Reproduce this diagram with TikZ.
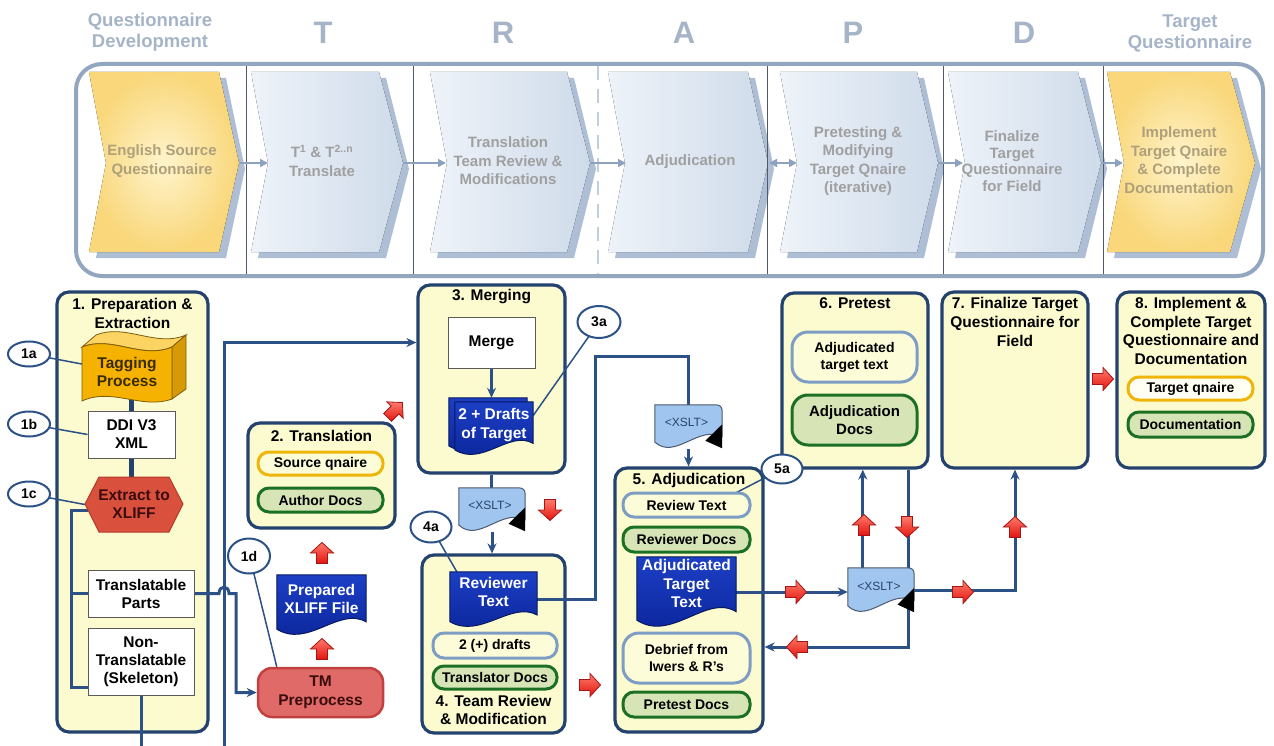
\documentclass[tikz,border=0pt]{standalone}
\usepackage{fontspec}
\setmainfont{Liberation Sans}
\usetikzlibrary{arrows.meta,calc,shapes.geometric}

\definecolor{navy}{HTML}{23426E}
\definecolor{connc}{HTML}{2C5187}
\definecolor{boxfill}{HTML}{FBFBCF}
\definecolor{hdrc}{HTML}{A6B4C8}
\definecolor{bandc}{HTML}{93A6C0}
\definecolor{sepc}{HTML}{4E5A68}
\definecolor{dashc}{HTML}{C3CEDB}
\definecolor{shadc}{HTML}{AEBFD5}
\definecolor{chBl}{HTML}{EEF3F9}
\definecolor{chBr}{HTML}{CFDBEA}
\definecolor{chYi}{HTML}{FFF4CC}
\definecolor{chYo}{HTML}{F9D77A}
\definecolor{chtextB}{HTML}{A0A0A0}
\definecolor{chtextY}{HTML}{AFA07C}
\definecolor{garr}{HTML}{8DA2BE}
\definecolor{golden}{HTML}{EFB509}
\definecolor{pillblue}{HTML}{7E9DC4}
\definecolor{pillgreen}{HTML}{1C7023}
\definecolor{greenfill}{HTML}{D6E4B6}
\definecolor{pillfill}{HTML}{FCFCD9}
\definecolor{whitefill}{HTML}{FFFFF4}
\definecolor{docTop}{HTML}{1C3FC4}
\definecolor{docBot}{HTML}{0A2397}
\definecolor{docedge}{HTML}{08195E}
\definecolor{xslfill}{HTML}{A0C6EF}
\definecolor{xsledge}{HTML}{4B5A6E}
\definecolor{xsltext}{HTML}{27446C}
\definecolor{wedge}{HTML}{5A5A5A}
\definecolor{hexred}{HTML}{D9503D}
\definecolor{hexedge}{HTML}{B23C2C}
\definecolor{tmred}{HTML}{DF6A68}
\definecolor{tmedge}{HTML}{C0413F}
\definecolor{darktext}{HTML}{3A0C0C}
\definecolor{tagfront}{HTML}{F5B200}
\definecolor{tagtopc}{HTML}{FCD463}
\definecolor{tagsidec}{HTML}{D69A05}
\definecolor{tagedge}{HTML}{7D5C0E}
\definecolor{tagtext}{HTML}{3A2A00}
\definecolor{arrlight}{HTML}{FF7B6B}
\definecolor{arrdark}{HTML}{E2140F}
\definecolor{arredge}{HTML}{A31616}

\pgfdeclarelayer{bg}
\pgfdeclarelayer{lines}
\pgfsetlayers{bg,lines,main}

% document outline with a wavy lower edge, fitted to a frame node
\newcommand\docshape[2]{%
  \path[#2] let \p1=(#1.north west), \p2=(#1.south east),
    \n1={\x2-\x1}, \n2={\y1-\y2} in
    (\x1,\y1) -- (\x2,\y1) -- (\x2,{\y2+0.22*\n2})
    .. controls ({\x2-0.3*\n1},{\y2+0.48*\n2}) and ({\x1+0.35*\n1},{\y2-0.22*\n2}) ..
    (\x1,{\y2+0.1*\n2}) -- cycle;}

% transformation sheet: rounded top corner, wavy bottom, black corner mark
\newcommand\xsltshape[1]{%
  \path[xsl] let \p1=(#1.north west), \p2=(#1.south east),
    \n1={\x2-\x1}, \n2={\y1-\y2} in
    (\x1,\y1) -- ({\x2-7},\y1) .. controls ({\x2-2},\y1) and (\x2,{\y1-2}) .. (\x2,{\y1-7})
    -- (\x2,{\y2+0.28*\n2})
    .. controls ({\x2-0.35*\n1},{\y2+0.55*\n2}) and ({\x1+0.3*\n1},{\y2-0.25*\n2}) ..
    (\x1,{\y2+0.16*\n2}) -- cycle;
  \fill[black] let \p1=(#1.north west), \p2=(#1.south east),
    \n1={\x2-\x1}, \n2={\y1-\y2} in
    (\x2,{\y2+0.56*\n2}) -- (\x2,{\y2+0.02*\n2}) -- ({\x2-0.25*\n1},{\y2+0.19*\n2}) -- cycle;}

\tikzset{
  redarrow/.pic={\path[top color=arrlight,bottom color=arrdark,draw=arredge,line width=0.8pt]
    (-10.5,-5.5) -- (0,-5.5) -- (0,-11.5) -- (10.5,0) -- (0,11.5) -- (0,5.5) -- (-10.5,5.5) -- cycle;}
}

\begin{document}
\begin{tikzpicture}[x=1pt,y=-1pt,
  hdr/.style={font=\bfseries\fontsize{18.5}{21}\selectfont, text=hdrc, align=center, inner sep=0pt},
  bigl/.style={font=\bfseries\fontsize{31}{31}\selectfont, text=hdrc, inner sep=0pt},
  chB/.style={left color=chBl, right color=chBr},
  chY/.style={inner color=chYi, outer color=chYo},
  chtxt/.style={font=\bfseries\fontsize{15}{18.5}\selectfont, align=center, text=chtextB, inner sep=0pt},
  garrow/.style={draw=garr, line width=1.6pt, -{Triangle[length=8pt,width=8pt]}},
  stage/.style={draw=navy, line width=3.2pt, fill=boxfill, rounded corners=12pt, inner sep=0pt},
  ttl/.style={font=\bfseries\fontsize{15.5}{18.7}\selectfont, align=center, inner sep=0pt},
  wbox/.style={draw=wedge, line width=1pt, fill=white, align=center, inner sep=0pt, font=\bfseries\fontsize{15.5}{18}\selectfont},
  pill/.style={line width=3pt, fill=pillfill, rounded corners=11pt, inner sep=0pt, align=center, font=\bfseries\fontsize{14}{17}\selectfont},
  pillG/.style={pill, draw=pillgreen, fill=greenfill},
  pillY/.style={pill, draw=golden},
  pillB/.style={pill, draw=pillblue},
  docframe/.style={inner sep=0pt, draw=none},
  docfill/.style={top color=docTop, bottom color=docBot, draw=docedge, line width=1pt},
  doctxt/.style={text=white, font=\bfseries\fontsize{15.5}{18.5}\selectfont, align=center, inner sep=0pt},
  xsl/.style={fill=xslfill, draw=xsledge, line width=1pt},
  xsltxt/.style={text=xsltext, font=\fontsize{12}{14}\selectfont, inner sep=0pt},
  conn/.style={draw=connc, line width=3pt},
  arr/.style={conn, -{Stealth[length=10pt,width=9pt]}},
  lead/.style={draw=connc, line width=1.5pt},
  thk/.style={draw=navy, line width=5pt},
  callout/.style={ellipse, draw=connc, line width=2pt, fill=white, inner sep=0pt, font=\bfseries\fontsize{14}{16}\selectfont},
]
\useasboundingbox (0,0) rectangle (1274,746);
\begin{pgfonlayer}{bg}
\fill[white] (0,0) rectangle (1274,746);
\end{pgfonlayer}

% ---------- phase header ----------
\node[hdr] (hq) at (150,32) {Questionnaire\\Development};
\node[bigl] (hT) at (323,33) {T};
\node[bigl] (hR) at (503,33) {R};
\node[bigl] (hA) at (684,33) {A};
\node[bigl] (hP) at (853,33) {P};
\node[bigl] (hD) at (1024,33) {D};
\node[hdr] (htq) at (1190,33) {Target\\Questionnaire};

% chevrons with their drop shadows
\foreach \xa/\xb/\xp/\st in {89/219/239/chY, 251/379/403/chB, 430/567/590/chB, 608/748/768/chB,
                             780/917/938/chB, 948/1078/1101/chB, 1107/1230/1255/chY}{
  \fill[shadc] ({\xa+7},78) -- ({\xb+7},78) -- ({\xp+6},169) -- ({\xb+7},258) -- ({\xa+7},258) -- ({\xa+24},169) -- cycle;
  \fill[\st] (\xa,72) -- (\xb,72) -- (\xp,163) -- (\xb,252) -- (\xa,252) -- ({\xa+17},163) -- cycle;
}
\foreach \xs in {246,413,767,943,1103}
  \draw[sepc, line width=1pt] (\xs,64) -- (\xs,276);
\draw[dashc, line width=2.5pt, dash pattern=on 14pt off 9pt] (598,66) -- (598,276);
\draw[bandc, line width=4pt, rounded corners=26pt] (76,64) rectangle (1263,276);

\node[chtxt, text=chtextY] (c1) at (162,161) {English Source\\Questionnaire};
\node[chtxt] (c2) at (322,161) {T\textsuperscript{1} \& T\textsuperscript{2..n}\\Translate};
\node[chtxt] (c3) at (508,161) {Translation\\Team Review \&\\Modifications};
\node[chtxt] (c4) at (690,162) {Adjudication};
\node[chtxt] (c5) at (858,161) {Pretesting \&\\Modifying\\Target Qnaire\\(iterative)};
\node[chtxt, font=\bfseries\fontsize{15}{16.5}\selectfont] (c6) at (1012,161) {Finalize\\Target\\Questionnaire\\for Field};
\node[chtxt, text=chtextY] (c7) at (1179,160) {Implement\\Target Qnaire\\\& Complete\\Documentation};

\draw[garrow] (239,163) -- (268,163);
\draw[garrow] (403,163) -- (446,163);
\draw[garrow] (590,163) -- (626,163);
\draw[draw=garr, line width=1.6pt, {Triangle[length=8pt,width=8pt]}-{Triangle[length=8pt,width=8pt]}] (769,163) -- (797,163);
\draw[garrow] (938,163) -- (963,163);
\draw[garrow] (1101,163) -- (1123,163);

% ---------- workflow stages ----------
\begin{pgfonlayer}{bg}
\node[stage, minimum width=151pt, minimum height=440pt] (s1) at (132.5,512) {};
\node[stage, minimum width=147pt, minimum height=105pt] (s2) at (321.5,475.5) {};
\node[stage, minimum width=147pt, minimum height=188pt] (s3) at (491.5,379) {};
\node[stage, minimum width=143pt, minimum height=178pt] (s4) at (493.5,644) {};
\node[stage, minimum width=148pt, minimum height=264pt] (s5) at (689,600) {};
\node[stage, minimum width=146pt, minimum height=175pt] (s6) at (855,380.5) {};
\node[stage, minimum width=146pt, minimum height=176pt] (s7) at (1015,380) {};
\node[stage, minimum width=148pt, minimum height=176pt] (s8) at (1191,380) {};
\end{pgfonlayer}

\node[ttl] (t1) at (132.5,313.5) {1. Preparation \&\\Extraction};
\node[ttl] (t2) at (321.5,436) {2. Translation};
\node[ttl] (t3) at (491.5,297) {3. Merging};
\node[ttl] (t4) at (493.5,710) {4. Team Review\\\& Modification};
\node[ttl] (t5) at (689,480) {5. Adjudication};
\node[ttl] (t6) at (855,303) {6. Pretest};
\node[ttl] (t7) at (1015,322) {7. Finalize Target\\Questionnaire for\\Field};
\node[ttl] (t8) at (1191,331) {8. Implement \&\\Complete Target\\Questionnaire and\\Documentation};

% stage 1: tagging banner (front, top and side faces)
\fill[tagtopc, draw=tagedge, line width=0.8pt] (82,347) -- (96,335) .. controls (126,323) and (156,348) .. (186,335)
  -- (172,347) .. controls (142,360) and (112,335) .. (82,347) -- cycle;
\fill[tagsidec, draw=tagedge, line width=0.8pt] (172,347) -- (186,335) -- (186,389) -- (172,399) -- cycle;
\fill[tagfront, draw=tagedge, line width=0.8pt] (82,347) .. controls (112,335) and (142,360) .. (172,347)
  -- (172,399) .. controls (142,410) and (112,387) .. (82,401) -- cycle;
\node[docframe, minimum width=90pt, minimum height=52pt, align=center, text=tagtext,
      font=\bfseries\fontsize{15.5}{18}\selectfont] (tag) at (127,372) {Tagging\\Process};

\node[wbox, minimum width=87pt, minimum height=47pt] (ddi) at (131.5,434.5) {DDI V3\\XML};
\fill[hexred, draw=hexedge, line width=1pt] (85,504) -- (99,477) -- (169,477) -- (183,504) -- (169,532) -- (99,532) -- cycle;
\node[docframe, minimum width=98pt, minimum height=55pt, align=center, text=darktext,
      font=\bfseries\fontsize{15.5}{18}\selectfont] (ext) at (134,504.5) {Extract to\\XLIFF};
\node[wbox, minimum width=106pt, minimum height=47pt] (tr) at (141,593.5) {Translatable\\Parts};
\node[wbox, minimum width=106pt, minimum height=67pt] (nontr) at (141,661.5) {Non-\\Translatable\\(Skeleton)};

% stage 2 and its inputs
\node[pillY, minimum width=125pt, minimum height=23pt] (p2a) at (320.5,463.5) {Source qnaire};
\node[pillG, minimum width=125pt, minimum height=24pt] (p2b) at (320.5,500) {Author Docs};

\node[docframe, minimum width=89pt, minimum height=60pt] (prep) at (321.5,605) {};
\docshape{prep}{docfill}
\node[doctxt] (prept) at (321.5,599) {Prepared\\XLIFF File};

\node[draw=tmedge, line width=2.5pt, fill=tmred, rounded corners=14pt, minimum width=125pt, minimum height=49pt,
      inner sep=0pt, align=center, text=darktext, font=\bfseries\fontsize{15.5}{18.5}\selectfont] (tm) at (320.5,692.5) {TM\\Preprocess};

% stage 3
\node[wbox, minimum width=87pt, minimum height=51pt] (merge) at (491.5,342.5) {Merge};
\node[docframe, minimum width=78pt, minimum height=53pt] (drfb) at (488,424.5) {};
\node[docframe, minimum width=78pt, minimum height=53pt] (drf) at (494,428.5) {};
\docshape{drfb}{docfill}
\docshape{drf}{docfill}
\node[doctxt] (drft) at (494,425) {2 + Drafts\\of Target};

\node[docframe, minimum width=66pt, minimum height=44pt] (xs1) at (492,510) {};
\xsltshape{xs1}
\node[xsltxt] (xs1t) at (490,505) {<XSLT>};

% stage 4
\node[docframe, minimum width=87pt, minimum height=55pt] (rev) at (493.5,599.5) {};
\docshape{rev}{docfill}
\node[doctxt] (revt) at (493.5,592) {Reviewer\\Text};
\node[pillB, minimum width=124pt, minimum height=25pt] (p4a) at (495,645.5) {2 (+) drafts};
\node[pillG, minimum width=124pt, minimum height=23pt] (p4b) at (495,677.5) {Translator Docs};

\node[docframe, minimum width=67pt, minimum height=44pt] (xs2) at (688.5,427) {};
\xsltshape{xs2}
\node[xsltxt] (xs2t) at (686.5,422) {<XSLT>};

% stage 5
\node[pillB, minimum width=127pt, minimum height=24pt] (p5a) at (686.5,505) {Review Text};
\node[pillG, minimum width=127pt, minimum height=25pt] (p5b) at (686.5,539.5) {Reviewer Docs};
\node[docframe, minimum width=99pt, minimum height=70pt] (adj) at (686.5,592) {};
\docshape{adj}{docfill}
\node[doctxt] (adjt) at (686.5,583.5) {Adjudicated\\Target\\Text};
\node[pillB, rounded corners=16pt, minimum width=127pt, minimum height=50pt] (p5c) at (686.5,658) {Debrief from\\Iwers \& R's};
\node[pillG, minimum width=127pt, minimum height=25pt] (p5d) at (686.5,704.5) {Pretest Docs};

\node[docframe, minimum width=66pt, minimum height=45pt] (xs3) at (881,590.5) {};
\xsltshape{xs3}
\node[xsltxt] (xs3t) at (879,586) {<XSLT>};

% stage 6
\node[pillB, rounded corners=16pt, minimum width=125pt, minimum height=50pt] (p6a) at (854.5,357) {Adjudicated\\target text};
\node[pillG, rounded corners=16pt, minimum width=125pt, minimum height=50pt,
      font=\bfseries\fontsize{15}{17.5}\selectfont] (p6b) at (854.5,420) {Adjudication\\Docs};

% stage 8
\node[pillY, fill=whitefill, minimum width=125pt, minimum height=23pt] (p8a) at (1190.5,388.5) {Target qnaire};
\node[pillG, minimum width=125pt, minimum height=25pt] (p8b) at (1190.5,424.5) {Documentation};

% ---------- connectors ----------
\begin{pgfonlayer}{lines}
\draw[thk] (ddi.north |- tag.south) -- (ddi.north);
\draw[thk] (ddi.south) -- (ddi.south |- ext.north);
\draw[conn] ($(ext.west)+(3,6)$) -- ++(-16,0) coordinate (brk) |- ($(nontr.west)+(0,26)$);
\draw[conn] (brk |- tr.west) -- (tr.west);
\draw[arr] (tr.east) -- (219,593.5) .. controls (219,585) and (229,585) .. (229,593.5) -- (236,593.5) |- (tm.west);
\coordinate (skelbot) at (141,746);
\draw[conn] (nontr.south) -- (skelbot);
\coordinate (retbot) at (224,746);
\draw[arr] (retbot) |- (merge.west -| s3.west);

\draw[arr] (merge.south) -- (merge.south |- drfb.north);
\draw[conn] (s3.south) -- (s3.south |- xs1.north);
\draw[arr] (xs1.south) -- (xs1.south |- s4.north);
\draw[conn] (rev.east) -- ++(58,0) |- ($(xs2.north)+(0,-48)$) -- (xs2.north);
\draw[arr] (xs2.south) -- (xs2.south |- s5.north);

\draw[arr] (adj.east) -- (adj.east -| xs3.west);
\coordinate (x3up) at ($(xs3.north west)+(15,0)$);
\draw[arr] (x3up) -- (x3up |- s6.south);
\coordinate (s6dn) at ($(s6.south east)+(-21,0)$);
\draw[arr] (s6dn) |- (s5.east |- 0,647);
\draw[arr] (xs3.east) -| (s7.south);

% callout leaders
\draw[lead] (29,354) -- ($(tag.west)+(0,-8)$);
\draw[lead] (29,424) -- (ddi.west);
\draw[lead] (29,494) -- (ext.west);
\draw[lead] (253,570) -- ($(tm.north west)+(20,0)$);
\draw[lead] (599,322) -- ($(drf.east)+(0,-13)$);
\draw[lead] (431,527) -- ($(rev.north west)+(7,0)$);
\draw[lead] (782,469) -- ($(p5a.north east)+(-15,1)$);
\end{pgfonlayer}

% ---------- callouts ----------
\node[callout, minimum width=42pt, minimum height=25pt] (a1a) at (29,354) {1a};
\node[callout, minimum width=42pt, minimum height=25pt] (a1b) at (29,424) {1b};
\node[callout, minimum width=42pt, minimum height=25pt] (a1c) at (29,494) {1c};
\node[callout, minimum width=42pt, minimum height=35pt] (a1d) at (249,556) {1d};
\node[callout, minimum width=43pt, minimum height=32pt] (a3a) at (599,322) {3a};
\node[callout, minimum width=41pt, minimum height=31pt] (a4a) at (431,527) {4a};
\node[callout, minimum width=41pt, minimum height=29pt] (a5a) at (782,469) {5a};

% ---------- flow markers ----------
\pic[rotate=90] at (322,553) {redarrow};
\pic[rotate=90] at (322,649) {redarrow};
\pic[rotate=45] at (395,410) {redarrow};
\pic[rotate=-90] at (550,510) {redarrow};
\pic at (590,685) {redarrow};
\pic at (796,592) {redarrow};
\pic[rotate=90] at (864,525) {redarrow};
\pic[rotate=-90] at (907,527) {redarrow};
\pic[rotate=180] at (797,647) {redarrow};
\pic at (963,592) {redarrow};
\pic[rotate=90] at (1015,527) {redarrow};
\pic at (1103,379) {redarrow};
\end{tikzpicture}
\end{document}
